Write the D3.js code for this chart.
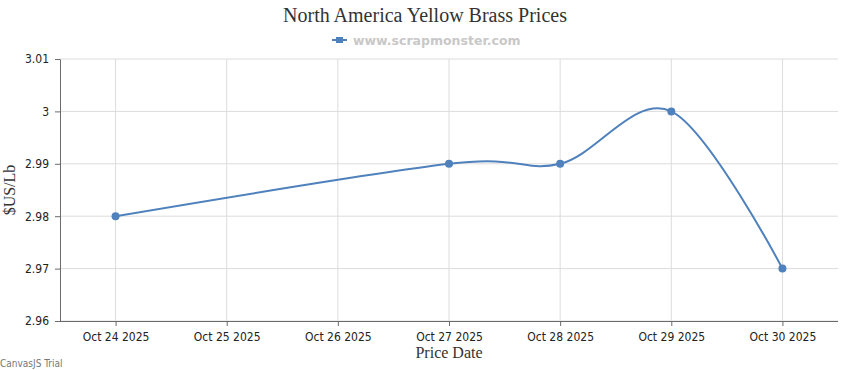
<!DOCTYPE html>
<html>
<head>
<meta charset="utf-8">
<script src="https://cdn.jsdelivr.net/npm/d3@7"></script>
<style>
  body { margin: 0; background: #fff; }
</style>
</head>
<body>
<svg id="chart"></svg>
<script>
const dates = ['Oct 24 2025', 'Oct 25 2025', 'Oct 26 2025', 'Oct 27 2025', 'Oct 28 2025', 'Oct 29 2025', 'Oct 30 2025'];
const priceDates = ['Oct 24 2025', 'Oct 27 2025', 'Oct 28 2025', 'Oct 29 2025', 'Oct 30 2025'];
const prices = [2.98, 2.99, 2.99, 3.00, 2.97];
const yTicks = [2.96, 2.97, 2.98, 2.99, 3, 3.01];

const W = 850, H = 370;
const margin = {top: 59, bottom: 49, left: 60, right: 12};
const width = W - margin.left - margin.right;
const height = H - margin.top - margin.bottom;

const root = d3.select('#chart').attr('width', W).attr('height', H);

const svg = root.append('g')
.attr('transform', `translate(${margin.left}, ${margin.top})`);

const x = d3.scalePoint()
.domain(dates)
.range([0, width])
.padding(0.5);

const y = d3.scaleLinear()
.domain([2.96, 3.01])
.range([height, 0]);

// grid
svg.append('g')
.selectAll('line.h')
.data(yTicks)
.enter()
.append('line')
.attr('x1', 0).attr('x2', width)
.attr('y1', d => y(d)).attr('y2', d => y(d))
.attr('stroke', '#dcdcdc');

svg.append('g')
.selectAll('line.v')
.data(dates)
.enter()
.append('line')
.attr('x1', d => x(d)).attr('x2', d => x(d))
.attr('y1', 0).attr('y2', height)
.attr('stroke', '#dcdcdc');

// axes
const xAxis = svg.append('g')
.attr('transform', `translate(0, ${height})`)
.call(d3.axisBottom(x).tickSize(5).tickSizeOuter(0).tickPadding(6));

const yAxis = svg.append('g')
.call(d3.axisLeft(y).tickValues(yTicks).tickFormat(d => String(+d.toFixed(2))).tickSize(5).tickSizeOuter(0).tickPadding(6));

[xAxis, yAxis].forEach(a => {
  a.select('.domain').attr('stroke', '#6b6b6b');
  a.selectAll('.tick line').attr('stroke', '#6b6b6b');
  a.selectAll('.tick text')
  .style('font-family', 'Tahoma, "DejaVu Sans Condensed", sans-serif')
  .style('font-size', '12px')
  .style('fill', '#222');
});
xAxis.select('.domain').attr('d', `M0,0.5H${width}`);

// line
const pts = priceDates.map((d, i) => ({date: d, price: prices[i]}));

svg.append('path')
.datum(pts)
.attr('fill', 'none')
.attr('stroke', '#4f81bc')
.attr('stroke-width', 2)
.attr('d', d3.line()
  .x(d => x(d.date))
  .y(d => y(d.price))
  .curve(d3.curveCardinal.tension(0)));

svg.selectAll('circle')
.data(pts)
.enter()
.append('circle')
.attr('cx', d => x(d.date))
.attr('cy', d => y(d.price))
.attr('r', 4)
.attr('fill', '#4f81bc');

// title
root.append('text')
.attr('x', 425)
.attr('y', 22)
.attr('text-anchor', 'middle')
.style('font-family', '"Liberation Serif", "Times New Roman", serif')
.style('font-size', '20px')
.style('fill', '#333')
.text('North America Yellow Brass Prices');

// legend
root.append('line')
.attr('x1', 332).attr('x2', 347)
.attr('y1', 40).attr('y2', 40)
.attr('stroke', '#4f81bc').attr('stroke-width', 2);
root.append('rect')
.attr('x', 336).attr('y', 37)
.attr('width', 7).attr('height', 6)
.attr('fill', '#4f81bc');
root.append('text')
.attr('x', 353)
.attr('y', 45)
.style('font-family', '"DejaVu Sans", Verdana, sans-serif')
.style('font-size', '12.5px')
.style('font-weight', 'bold')
.style('fill', '#c8c8c8')
.text('www.scrapmonster.com');

// axis titles
root.append('text')
.attr('x', margin.left + width / 2)
.attr('y', 358)
.attr('text-anchor', 'middle')
.style('font-family', '"Liberation Serif", "Times New Roman", serif')
.style('font-size', '16px')
.style('fill', '#333')
.text('Price Date');

root.append('text')
.attr('transform', 'rotate(-90)')
.attr('x', -(margin.top + height / 2))
.attr('y', 15)
.attr('text-anchor', 'middle')
.style('font-family', '"Liberation Serif", "Times New Roman", serif')
.style('font-size', '16px')
.style('fill', '#333')
.text('$US/Lb');

root.append('text')
.attr('x', 0)
.attr('y', 367)
.style('font-family', '"DejaVu Sans Condensed", sans-serif')
.style('font-size', '10px')
.style('fill', '#777')
.text('CanvasJS Trial');
</script>
</body>
</html>
